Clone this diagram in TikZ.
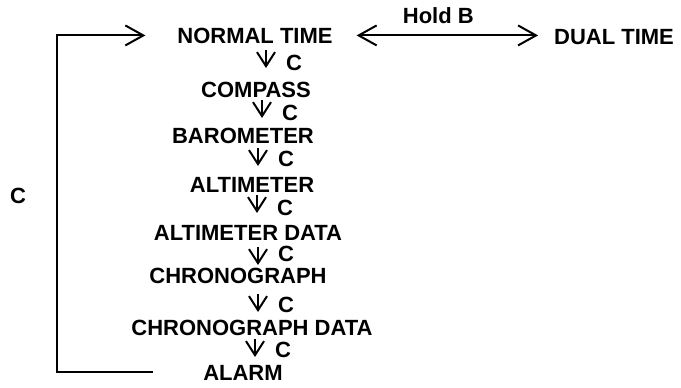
\documentclass[tikz,border=0pt]{standalone}
\usepackage{fontspec}
\setmainfont{Liberation Sans}
\usetikzlibrary{arrows.meta}
\begin{document}
\begin{tikzpicture}[
        x=1pt, y=1pt,
        line width=2pt,
        font=\fontsize{22}{26}\selectfont\bfseries
    ]
    \tikzset{
        mode/.style = {inner sep=0pt, anchor=base},
        clab/.style = {inner sep=0pt, anchor=base west, xshift=19pt},
        down/.style = {-{Straight Barb[length=14pt,width=18pt,line width=2pt]}},
        bigarrow/.style = {-{Straight Barb[length=18pt,width=20pt,line width=2pt]}},
        twoway/.style = {{Straight Barb[length=18pt,width=20pt,line width=2pt]}-{Straight Barb[length=18pt,width=20pt,line width=2pt]}},
    }
    \useasboundingbox (0,0) rectangle (681,-388);
    \node[mode] at (255,-43) (nt) {NORMAL TIME};
    \node[mode] at (614,-45) (dt) {DUAL TIME};
    \node[mode] at (256,-97) (cp) {COMPASS};
    \node[mode] at (243,-143) (ba) {BAROMETER};
    \node[mode] at (252,-192) (al) {ALTIMETER};
    \node[mode] at (248,-240) (ad) {ALTIMETER DATA};
    \node[mode] at (238,-283) (ch) {CHRONOGRAPH};
    \node[mode] at (252,-335) (cd) {CHRONOGRAPH DATA};
    \node[mode] at (243,-380) (am) {ALARM};
    \node[mode] at (18,-203) (cl) {C};
    %
    \coordinate (s1) at (266,-50);  \coordinate (e1) at (266,-68);
    \coordinate (s2) at (262,-100); \coordinate (e2) at (262,-118);
    \coordinate (s3) at (258,-148); \coordinate (e3) at (258,-166);
    \coordinate (s4) at (257,-195); \coordinate (e4) at (257,-213);
    \coordinate (s5) at (258,-247); \coordinate (e5) at (258,-265);
    \coordinate (s6) at (258,-294); \coordinate (e6) at (258,-312);
    \coordinate (s7) at (255,-339); \coordinate (e7) at (255,-357);
    \coordinate (lb) at (153,-372);
    %
    \draw[down] (s1) -- (e1) node[clab, yshift=-2pt] {C};
    \draw[down] (s2) -- (e2) node[clab, yshift=-2pt] {C};
    \draw[down] (s3) -- (e3) node[clab] {C};
    \draw[down] (s4) -- (e4) node[clab, yshift=-2pt] {C};
    \draw[down] (s5) -- (e5) node[clab, yshift=4pt] {C};
    \draw[down] (s6) -- (e6) node[clab] {C};
    \draw[down] (s7) -- (e7) node[clab] {C};
    %
    \draw[twoway, shorten <=23pt, shorten >=15pt] (nt.east) -- (nt.east -| dt.west)
        node[midway, inner sep=0pt, anchor=base, yshift=12pt, xshift=-5pt] {Hold B};
    \draw[bigarrow, shorten >=31pt] (lb) -- (57,-372) |- (nt.west);
\end{tikzpicture}
\end{document}
